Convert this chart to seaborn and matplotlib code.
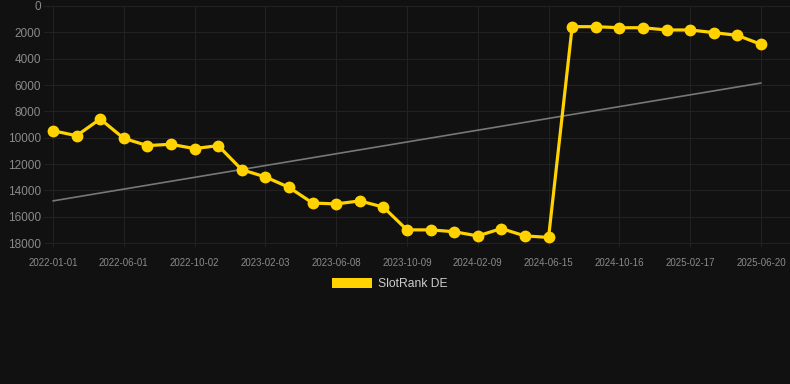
import pandas as pd
import matplotlib.pyplot as plt
import seaborn as sns
from matplotlib.patches import Patch

# SlotRank DE values, one point every ~6 weeks
rank_values = [9470, 9850, 8580, 10050, 10600, 10500, 10830, 10600, 12430, 12980,
               13770, 14960, 15030, 14800, 15270, 17000, 17000, 17140, 17460, 16900,
               17460, 17570, 1570, 1570, 1650, 1650, 1820, 1820, 2020, 2230, 2910]

# labels shown under every third point
tick_labels = ["2022-01-01", "2022-06-01", "2022-10-02", "2023-02-03", "2023-06-08",
               "2023-10-09", "2024-02-09", "2024-06-15", "2024-10-16", "2025-02-17",
               "2025-06-20"]

# trend line start/end values
trend_values = [14800, 5850]

df = pd.DataFrame({"idx": range(len(rank_values)), "rank": rank_values})
trend_df = pd.DataFrame({"idx": [0, len(rank_values) - 1], "rank": trend_values})

bg = "#111111"
sns.set_style("dark", {"axes.facecolor": bg, "figure.facecolor": bg,
                       "grid.color": "#222222", "axes.edgecolor": bg})
plt.rcParams["font.family"] = ["Liberation Sans", "DejaVu Sans"]

fig = plt.figure(figsize=(7.9, 3.84), dpi=100)
ax = fig.add_axes([44 / 790, 1 - 247 / 384, 746 / 790, 241 / 384])

sns.lineplot(data=trend_df, x="idx", y="rank", color="#777777", linewidth=1.2, ax=ax)
sns.lineplot(data=df, x="idx", y="rank", color="#FFD200", linewidth=2.3,
             marker="o", markersize=8.5, markeredgewidth=0, ax=ax)

ax.set_ylim(18300, 0)
ax.set_xlim(-0.38, 31.23)
ax.set_yticks(range(0, 18001, 2000))
ax.set_xticks(range(0, len(rank_values), 3))
ax.set_xticklabels(tick_labels)
ax.tick_params(axis="y", labelsize=8.5, colors="#8a8a8a", length=0, pad=2)
ax.tick_params(axis="x", labelsize=7, colors="#8a8a8a", length=0, pad=8)
ax.grid(True, color="#222222", linewidth=0.8)
ax.set_xlabel("")
ax.set_ylabel("")
for s in ax.spines.values():
    s.set_visible(False)

handle = Patch(facecolor="#FFD200", edgecolor="none")
fig.legend([handle], ["SlotRank DE"], loc="center", bbox_to_anchor=(390 / 790, 1 - 284 / 384),
           frameon=False, fontsize=8.7, labelcolor="#cccccc",
           handlelength=3.3, handleheight=0.9, handletextpad=0.5)

fig.savefig("out.png", dpi=100, facecolor=bg)
